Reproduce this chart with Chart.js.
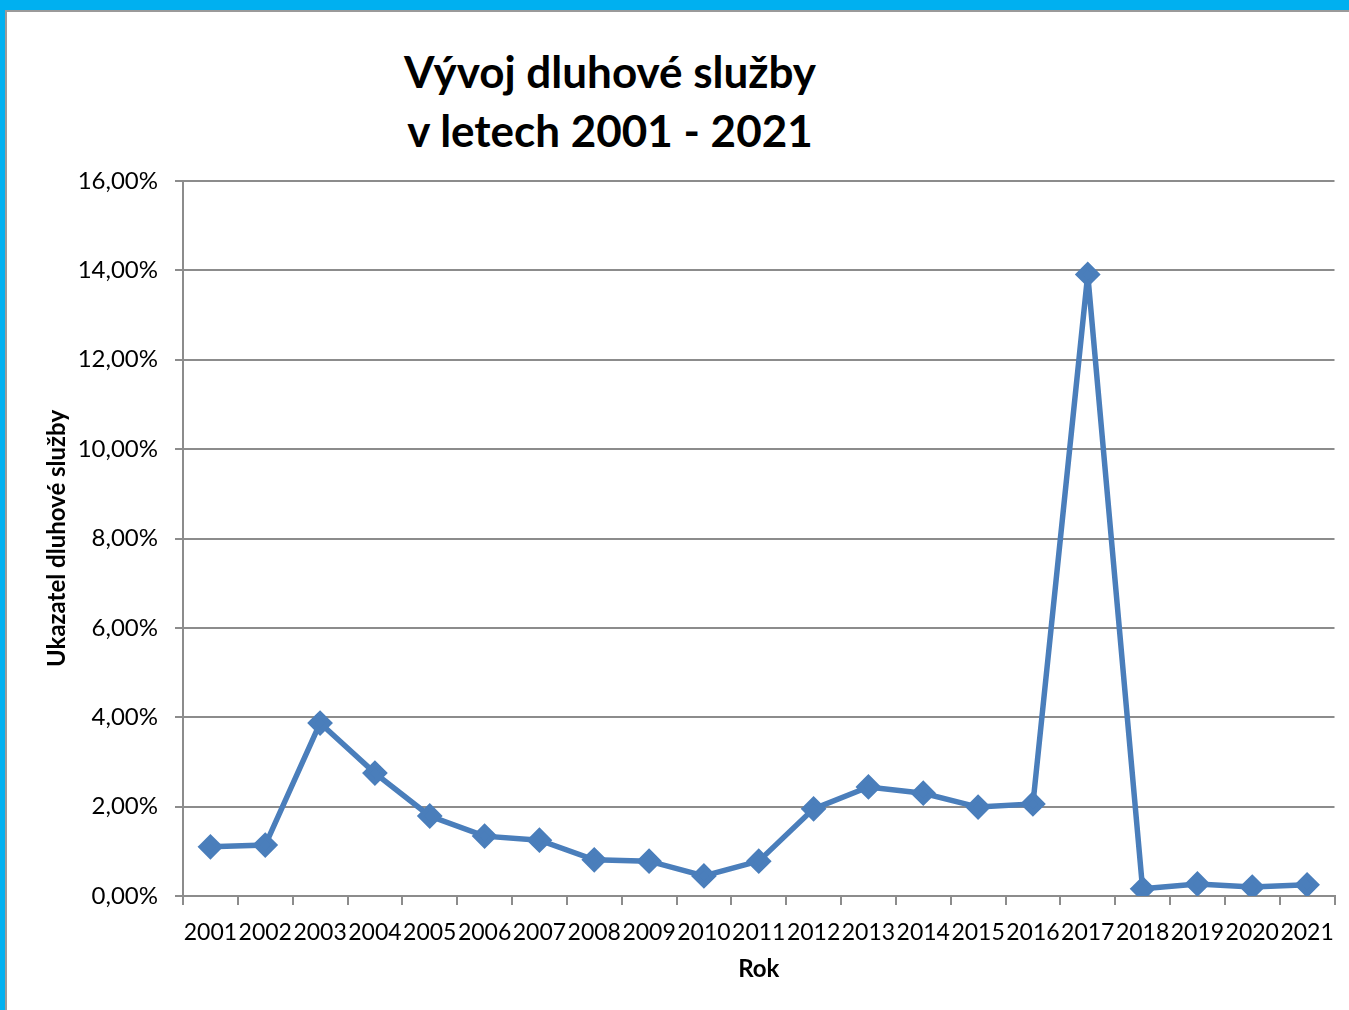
<!DOCTYPE html>
<html lang="cs">
<head>
    <meta charset="UTF-8" />
    <title>Vývoj dluhové služby</title>
    <script src="https://cdn.jsdelivr.net/npm/chart.js"></script>
    <style>
        html, body { margin: 0; padding: 0; background: #fff; }
        .frame {
            position: relative;
            width: 1349px;
            height: 1010px;
            overflow: hidden;
            font-family: Lato, "Open Sans", sans-serif;
        }
        .band-top { position: absolute; left: 0; top: 0; width: 1349px; height: 10px; background: #00b0f0; }
        .band-left { position: absolute; left: 0; top: 0; width: 5px; height: 1010px; background: #00b0f0; }
        .edge-top { position: absolute; left: 5px; top: 10px; width: 1344px; height: 2px; background: #9a9a9a; }
        .edge-left { position: absolute; left: 5px; top: 10px; width: 2px; height: 1000px; background: #9a9a9a; }
        .title {
            position: absolute;
            left: 310px;
            width: 600px;
            top: 42px;
            text-align: center;
            font-weight: bold;
            font-size: 44px;
            line-height: 59px;
            color: #000;
        }
        canvas { position: absolute; left: 0; top: 0; }
    </style>
</head>
<body>
    <div class="frame">
        <div class="band-top"></div>
        <div class="band-left"></div>
        <div class="edge-top"></div>
        <div class="edge-left"></div>
        <div class="title">Vývoj dluhové služby<br/>v letech 2001 - 2021</div>
        <canvas id="debtChart" width="1349" height="1010"></canvas>
    </div>

    <script>
        const years = ['2001', '2002', '2003', '2004', '2005', '2006', '2007', '2008', '2009', '2010', '2011',
                       '2012', '2013', '2014', '2015', '2016', '2017', '2018', '2019', '2020', '2021'];
        // ukazatel dluhove sluzby v %
        const debtService = [1.10, 1.14, 3.87, 2.75, 1.79, 1.34, 1.25, 0.81, 0.78, 0.45, 0.78,
                             1.95, 2.44, 2.30, 1.99, 2.06, 13.91, 0.16, 0.27, 0.20, 0.25];
        const yTicks = [0, 2, 4, 6, 8, 10, 12, 14, 16];

        const ctx = document.getElementById('debtChart').getContext('2d');
        const gray = '#8c8c8c';

        new Chart(ctx, {
            type: 'line',
            data: {
                labels: years,
                datasets: [{
                    label: 'Ukazatel dluhové služby',
                    data: debtService,
                    borderColor: '#4a7ebb',
                    backgroundColor: '#4a7ebb',
                    borderWidth: 5.5,
                    pointStyle: 'rectRot',
                    pointRadius: 9,
                    pointHoverRadius: 9,
                    tension: 0
                }]
            },
            options: {
                responsive: false,
                animation: false,
                layout: { padding: { top: 181, right: 14, bottom: 0, left: 0 } },
                plugins: {
                    legend: { display: false },
                    tooltip: { enabled: false }
                },
                scales: {
                    x: {
                        offset: true,
                        grid: { offset: true, drawOnChartArea: false, color: gray, lineWidth: 2, tickLength: 9 },
                        border: { color: gray, width: 2 },
                        ticks: {
                            autoSkip: false, maxRotation: 0, padding: 14,
                            color: '#000', font: { family: 'Lato', size: 23 }
                        },
                        title: {
                            display: true, text: 'Rok', color: '#000',
                            font: { family: 'Lato', size: 24, weight: 'bold' },
                            padding: { top: 0, bottom: 26 }
                        },
                        afterFit: s => { s.height = 114; }
                    },
                    y: {
                        min: 0,
                        max: 16,
                        afterBuildTicks: s => { s.ticks = yTicks.map(v => ({ value: v })); },
                        grid: { color: gray, lineWidth: 2, tickLength: 8 },
                        border: { color: gray, width: 2 },
                        ticks: {
                            padding: 17, color: '#000', font: { family: 'Lato', size: 24 },
                            callback: v => v.toFixed(2).replace('.', ',') + '%'
                        },
                        title: {
                            display: true, text: 'Ukazatel dluhové služby', color: '#000',
                            font: { family: 'Lato', size: 24, weight: 'bold' },
                            padding: { top: 43, bottom: 0 }
                        },
                        afterFit: s => { s.width = 183; }
                    }
                }
            }
        });
    </script>
</body>
</html>
